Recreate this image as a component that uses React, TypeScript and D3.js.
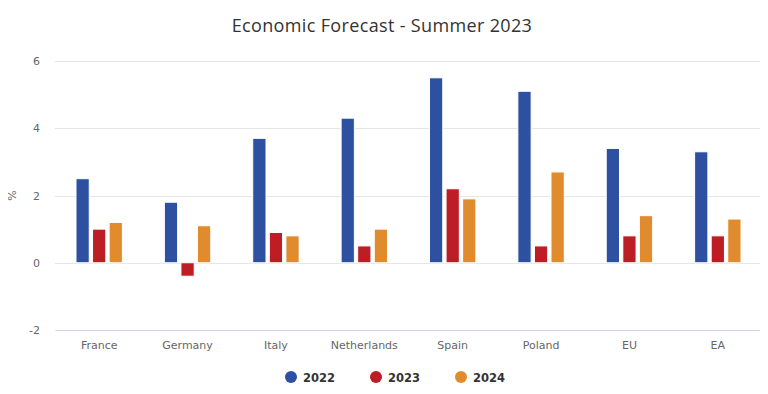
import { useRef, useEffect } from 'react'
import * as d3 from 'd3'

const W = 768
const H = 394
const margin = { top: 61, right: 6, bottom: 64, left: 55 }

const countries = ['France', 'Germany', 'Italy', 'Netherlands', 'Spain', 'Poland', 'EU', 'EA']
const years = ['2022', '2023', '2024']
const v2022 = [2.5, 1.8, 3.7, 4.3, 5.5, 5.1, 3.4, 3.3]
const v2023 = [1.0, -0.4, 0.9, 0.5, 2.2, 0.5, 0.8, 0.8]
const v2024 = [1.2, 1.1, 0.8, 1.0, 1.9, 2.7, 1.4, 1.3]
const yTicks = [-2, 0, 2, 4, 6]
const colors = ['#2d50a0', '#bd1d25', '#df8b2e']

const FONT = '"Lucida Grande", "DejaVu Sans", "Open Sans", Arial, sans-serif'

function App() {
  const svgRef = useRef<SVGSVGElement>(null)

  useEffect(() => {
    const svg = d3.select(svgRef.current)
    svg.selectAll('*').remove()

    const series = [v2022, v2023, v2024]
    const x0 = d3.scaleBand().domain(countries).range([margin.left, W - margin.right]).paddingInner(0.4).paddingOuter(0.2)
    const x1 = d3.scaleBand().domain(years).range([0, x0.bandwidth()]).padding(0.2)
    const y = d3.scaleLinear().domain([-2, 6]).range([H - margin.bottom, margin.top])

    // title
    svg.append('text')
      .attr('x', 382).attr('y', 32)
      .attr('text-anchor', 'middle')
      .attr('font-family', 'Open Sans, sans-serif')
      .attr('font-size', 18)
      .attr('letter-spacing', 0.35)
      .attr('fill', '#333333')
      .text('Economic Forecast - Summer 2023')

    // grid
    const grid = svg.append('g')
    grid.selectAll('line').data(yTicks.filter(t => t !== -2)).join('line')
      .attr('x1', margin.left).attr('x2', W - margin.right)
      .attr('y1', d => Math.round(y(d)) + 0.5).attr('y2', d => Math.round(y(d)) + 0.5)
      .attr('stroke', '#e6e6e6')

    // y axis labels
    svg.append('g').selectAll('text').data(yTicks).join('text')
      .attr('x', 40).attr('y', d => y(d) + 4)
      .attr('text-anchor', 'end')
      .attr('font-family', FONT).attr('font-size', 11).attr('fill', '#666666')
      .text(d => String(d))

    svg.append('text')
      .attr('transform', `translate(16,${y(2)}) rotate(-90)`)
      .attr('text-anchor', 'middle')
      .attr('font-family', FONT).attr('font-size', 11).attr('fill', '#666666')
      .text('%')

    // bars
    const groups = svg.append('g').selectAll('g').data(countries).join('g')
      .attr('transform', d => `translate(${x0(d)},0)`)
    groups.selectAll('rect')
      .data((_, i) => series.map((s, k) => ({ key: years[k], v: s[i], k })))
      .join('rect')
      .attr('x', d => x1(d.key)!)
      .attr('width', x1.bandwidth())
      .attr('y', d => y(Math.max(0, d.v)))
      .attr('height', d => Math.abs(y(d.v) - y(0)))
      .attr('fill', d => colors[d.k])
      .attr('stroke', '#ffffff').attr('stroke-width', 1)

    // x axis
    const xAxis = svg.append('g').attr('transform', `translate(0,${y(-2)})`)
      .call(d3.axisBottom(x0).tickSize(0).tickPadding(11))
    xAxis.select('.domain').attr('stroke', '#ccd6eb')
    xAxis.selectAll('text').attr('font-family', FONT).attr('font-size', 11).attr('fill', '#666666')

    // legend
    const legend = svg.append('g')
    const lx = [291, 376, 461]
    years.forEach((yr, k) => {
      legend.append('circle').attr('cx', lx[k]).attr('cy', 377).attr('r', 6).attr('fill', colors[k])
      legend.append('text').attr('x', lx[k] + 12).attr('y', 381.5)
        .attr('font-family', FONT).attr('font-size', 11.5).attr('font-weight', 'bold').attr('fill', '#333333')
        .text(yr)
    })
  }, [])

  return (
    <div style={{ margin: -8 }}>
      <svg ref={svgRef} width={W} height={H} style={{ display: 'block', background: '#ffffff' }} />
    </div>
  )
}

export default App
